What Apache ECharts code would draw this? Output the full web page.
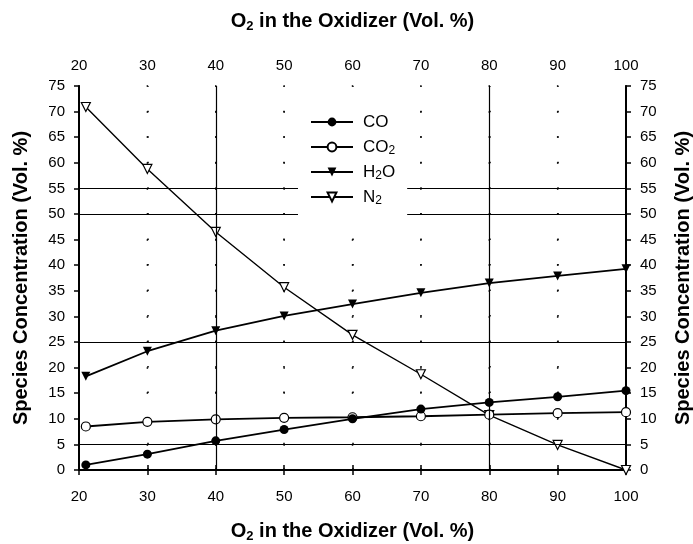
<!DOCTYPE html>
<html>
<head>
<meta charset="utf-8">
<script src="https://cdn.jsdelivr.net/npm/echarts@6/dist/echarts.min.js"></script>
<style>
  html, body { margin: 0; padding: 0; background: #fff; }
  #main { width: 693px; height: 544px; }
</style>
</head>
<body>
<div id="main"></div>
<script>
var chart = echarts.init(document.getElementById('main'));

// O2 in the oxidizer (Vol. %)
var o2 = [21, 30, 40, 50, 60, 70, 80, 90, 100];
var co  = [1.0, 3.1, 5.7, 7.9, 10.0, 11.9, 13.2, 14.3, 15.5];
var co2 = [8.5, 9.4, 9.9, 10.2, 10.3, 10.5, 10.8, 11.1, 11.3];
var h2o = [18.3, 23.2, 27.2, 30.1, 32.4, 34.6, 36.5, 37.9, 39.3];
var n2  = [70.9, 58.8, 46.5, 35.7, 26.4, 18.7, 10.7, 4.9, 0];

// solid grid lines of the original plot
var solidGridX = [40, 80];
var solidGridY = [5, 25, 50, 55];

var font = 'Liberation Sans, Arial, sans-serif';

function pairs(ys) {
  var res = [];
  for (var i = 0; i < o2.length; i++) res.push([o2[i], ys[i]]);
  return res;
}

var markData = [];
solidGridX.forEach(function (v) { markData.push({ xAxis: v }); });
solidGridY.forEach(function (v) { markData.push({ yAxis: v }); });

var xName = '{b|O}{s|2}{b| in the Oxidizer (Vol. %)}';
var nameRich = {
  b: { fontFamily: font, fontWeight: 'bold', fontSize: 20, lineHeight: 24, color: '#000' },
  s: { fontFamily: font, fontWeight: 'bold', fontSize: 13, lineHeight: 13, verticalAlign: 'bottom', color: '#000' }
};

function xAxisCfg(pos) {
  return {
    type: 'value',
    position: pos,
    min: 20, max: 100, interval: 10,
    name: xName,
    nameLocation: 'middle',
    nameGap: pos === 'bottom' ? 49 : 53,
    nameTextStyle: { rich: nameRich },
    axisLine: { lineStyle: { color: '#000', width: 2 } },
    axisTick: { inside: false, length: 5, lineStyle: { color: '#000', width: 1.5 } },
    axisLabel: { color: '#000', fontFamily: font, fontSize: 15, margin: pos === 'bottom' ? 19 : 13 },
    splitLine: pos === 'bottom' ? {
      show: true,
      lineStyle: { color: '#000', width: 1.5, type: [1.5, 24.03], dashOffset: 0.75 }
    } : { show: false }
  };
}

function yAxisCfg(pos) {
  return {
    type: 'value',
    position: pos,
    min: 0, max: 75, interval: 5,
    name: 'Species Concentration (Vol. %)',
    nameLocation: 'middle',
    nameRotate: 90,
    nameGap: pos === 'left' ? 48 : 47,
    nameTextStyle: { fontFamily: font, fontWeight: 'bold', fontSize: 20, color: '#000' },
    axisLine: { show: true, lineStyle: { color: '#000', width: 2 } },
    axisTick: { show: true, inside: false, length: 5, lineStyle: { color: '#000', width: 1.5 } },
    axisLabel: { color: '#000', fontFamily: font, fontSize: 15, margin: 14 },
    splitLine: pos === 'left' ? {
      show: true,
      lineStyle: { color: '#000', width: 1.5, type: [1.5, 66.88], dashOffset: 0.75 }
    } : { show: false }
  };
}

var legendNames = { 'CO': 'CO', 'CO2': 'CO{s|2}', 'H2O': 'H{s|2}O', 'N2': 'N{s|2}' };

var option = {
  backgroundColor: '#fff',
  animation: false,
  grid: { left: 79, right: 67, top: 86, bottom: 74, outerBoundsMode: 'none', containLabel: false },
  legend: {
    orient: 'vertical',
    left: 298,
    top: 105,
    z: 20,
    padding: [7, 12, 11, 12],
    backgroundColor: '#fff',
    itemWidth: 42,
    itemHeight: 11,
    itemGap: 5,
    data: ['CO', 'CO2', 'H2O', 'N2'],
    formatter: function (name) { return legendNames[name]; },
    textStyle: {
      fontFamily: font, fontSize: 17, lineHeight: 20, color: '#000', padding: [0, 0, 0, 5],
      rich: { s: { fontFamily: font, fontSize: 12, lineHeight: 12, verticalAlign: 'bottom', color: '#000' } }
    }
  },
  xAxis: [xAxisCfg('bottom'), xAxisCfg('top')],
  yAxis: [yAxisCfg('left'), yAxisCfg('right')],
  series: [
    {
      name: 'N2', type: 'line', data: pairs(n2),
      symbol: 'triangle', symbolSize: 9, symbolRotate: 180,
      itemStyle: { color: '#fff', borderColor: '#000', borderWidth: 1.2 },
      lineStyle: { color: '#000', width: 1.4 },
      markLine: {
        silent: true, symbol: 'none', animation: false,
        label: { show: false },
        lineStyle: { color: '#000', width: 1.2, type: 'solid' },
        data: markData
      },
      z: 3
    },
    {
      name: 'CO2', type: 'line', data: pairs(co2),
      symbol: 'circle', symbolSize: 9,
      itemStyle: { color: '#fff', borderColor: '#000', borderWidth: 1.2 },
      lineStyle: { color: '#000', width: 1.8 },
      z: 4
    },
    {
      name: 'H2O', type: 'line', data: pairs(h2o),
      symbol: 'triangle', symbolSize: 9, symbolRotate: 180,
      itemStyle: { color: '#000' },
      lineStyle: { color: '#000', width: 1.8 },
      z: 5
    },
    {
      name: 'CO', type: 'line', data: pairs(co),
      symbol: 'circle', symbolSize: 9,
      itemStyle: { color: '#000' },
      lineStyle: { color: '#000', width: 1.8 },
      z: 6
    }
  ]
};

chart.setOption(option);
</script>
</body>
</html>
